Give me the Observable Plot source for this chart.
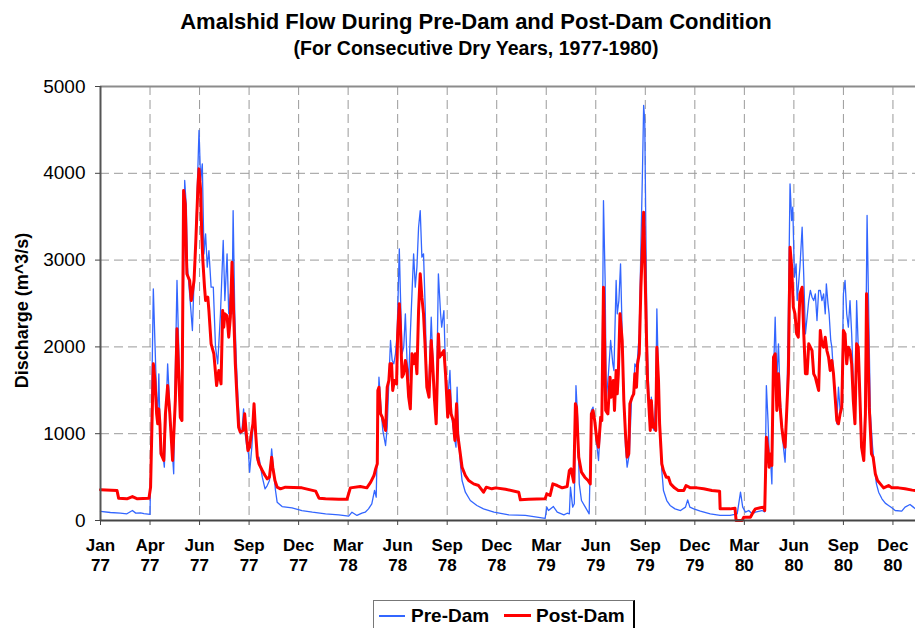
<!DOCTYPE html>
<html><head><meta charset="utf-8">
<script src="https://cdn.jsdelivr.net/npm/d3@7"></script>
<script src="https://cdn.jsdelivr.net/npm/@observablehq/plot@0.6"></script>
<style>
body{margin:0;background:#fff;font-family:Arial,"Liberation Sans",sans-serif;}
#wrap{position:relative;width:915px;height:628px;overflow:hidden;background:#fff;}
#chart{position:absolute;left:0;top:0;}
.ttl{position:absolute;left:0;width:952px;text-align:center;font-weight:bold;color:#000;white-space:nowrap;}
#legend{position:absolute;left:373px;top:600px;width:259px;height:40px;border:1px solid #777;border-right:2px solid #000;background:#fff;}
#legend span{position:absolute;font-weight:bold;font-size:19px;line-height:19px;top:5px;color:#000;}
#legend i{position:absolute;display:block;}
</style></head>
<body>
<div id="wrap">
  <div id="chart"></div>
  <div class="ttl" id="title" style="top:10px;font-size:22px;line-height:24px;"></div>
  <div class="ttl" id="subtitle" style="top:37px;font-size:19.5px;line-height:22px;"></div>
  <div id="legend"></div>
</div>
<script>
const titleText = "Amalshid Flow During Pre-Dam and Post-Dam Condition";
const subtitleText = "(For Consecutive Dry Years, 1977-1980)";
const yLabel = "Discharge (m^3/s)";
const seriesNames = ["Pre-Dam", "Post-Dam"];
const seriesColors = ["#3366FF", "#FF0000"];

// days since 1977-01-01 and discharge (m^3/s)
const preDay = [0,18,36,48,58,64,73,79,90,96,99,102,104,106,109,114,116,119,122,125,128,133,136,139,142,145,148,153,156,158,162,167,170,173,179,182,185,188,191,194,197,201,205,209,213,218,223,226,230,233,236,239,241,244,247,250,254,257,260,263,266,269,271,275,279,282,285,288,294,299,303,307,311,315,318,321,330,348,366,385,409,433,451,457,466,475,481,487,493,498,501,504,506,510,513,518,521,524,527,530,533,536,539,543,545,548,551,554,557,560,563,566,569,572,575,578,581,584,587,590,593,597,601,603,607,610,614,618,620,624,627,631,635,638,642,646,648,651,654,657,663,672,684,696,715,742,772,808,811,814,823,830,842,848,852,854,858,861,864,867,870,874,881,888,892,895,898,901,905,909,911,914,917,919,923,927,931,933,937,939,942,945,948,951,954,957,961,965,969,971,974,976,979,982,985,987,989,991,993,996,999,1001,1004,1006,1009,1011,1014,1016,1020,1023,1029,1035,1044,1054,1063,1067,1071,1078,1090,1108,1126,1144,1157,1163,1167,1172,1178,1184,1190,1202,1207,1210,1213,1215,1218,1220,1223,1226,1229,1232,1235,1238,1241,1244,1247,1250,1253,1256,1258,1261,1264,1266,1268,1271,1275,1278,1281,1284,1287,1290,1293,1296,1299,1302,1305,1308,1311,1314,1317,1319,1322,1324,1327,1329,1332,1335,1338,1341,1344,1347,1350,1353,1356,1359,1362,1365,1368,1371,1374,1377,1380,1383,1387,1390,1393,1396,1399,1403,1407,1410,1414,1420,1426,1432,1438,1444,1456,1462,1471,1477,1481];
const preQ = [104,92,85,77,115,85,88,80,70,2669,2035,1421,1229,1690,768,730,614,1229,1805,1421,1037,538,1728,2765,2035,1229,1229,3917,3610,2919,2611,2189,2765,3226,4493,3917,4109,3072,3302,2919,3110,2688,2688,1997,1805,2381,3226,2534,3072,2381,2611,2381,3571,2381,1805,1382,998,1018,1286,998,845,768,557,845,1325,998,691,730,499,365,403,461,826,538,346,211,161,146,115,96,77,65,50,96,58,84,96,134,192,346,269,1190,1651,1267,1037,864,1075,1613,2074,1843,1805,1920,2150,3130,2611,1920,1997,2381,1843,1613,2150,2611,3072,2688,2919,3379,3571,3034,3072,2458,1574,1613,2342,1997,1382,1152,2842,2381,2227,2419,1728,1382,1728,1229,998,845,1536,922,653,461,326,230,173,134,96,65,58,25,154,115,161,96,65,84,77,384,154,192,1555,1190,422,230,154,77,1267,1306,1152,922,691,1152,1152,3686,2765,1382,1690,2074,1805,1728,2765,2381,2534,2957,2150,1459,845,614,768,1400,1498,1805,1766,1882,2150,3149,4070,4781,4608,3341,2150,1536,1037,1421,1075,1037,1421,2438,1613,1037,576,346,230,173,134,115,154,238,154,134,108,77,58,58,77,326,154,96,115,77,96,115,100,1555,1152,768,653,422,1690,2342,1613,2035,1421,1114,845,672,1229,2381,3878,3456,3610,2803,2957,2534,2688,2919,3379,2803,2150,2342,2534,2650,2573,2534,2611,2304,2650,2650,2534,2611,2381,2726,2496,2381,2074,1997,1690,1459,1114,1536,1267,1344,2611,2765,2381,2227,2534,2150,1613,1152,2534,1997,1267,845,691,1613,3514,2381,1229,845,576,422,326,250,200,173,146,115,108,154,184,154,134];

const postDay = [0,30,33,48,58,67,88,91,96,99,102,104,106,108,110,115,118,122,126,131,136,139,142,145,148,151,154,157,162,165,170,173,177,179,182,184,186,189,191,195,197,201,206,211,215,219,222,224,226,230,233,236,239,242,245,248,251,254,259,262,265,268,271,274,277,279,282,285,288,294,299,303,307,311,313,317,321,327,336,366,391,397,409,433,448,454,472,484,491,497,500,503,504,506,509,512,515,518,521,524,526,529,531,534,538,540,543,545,548,551,554,557,560,563,566,569,572,575,578,581,584,587,590,593,597,601,603,607,610,614,616,620,624,627,631,634,637,641,644,647,649,653,657,663,669,678,687,696,701,711,718,736,760,763,778,808,811,817,822,830,839,848,852,855,860,863,865,869,874,880,886,890,892,895,898,902,905,909,911,914,916,918,922,926,928,932,934,937,939,941,944,948,951,954,957,960,962,966,969,971,974,976,979,982,985,987,989,992,994,996,999,1001,1004,1006,1009,1011,1014,1016,1020,1023,1028,1032,1036,1043,1050,1060,1064,1072,1084,1096,1111,1125,1126,1144,1153,1155,1166,1169,1181,1186,1190,1199,1205,1207,1210,1213,1215,1218,1220,1223,1226,1229,1232,1235,1238,1241,1244,1247,1250,1253,1256,1259,1262,1265,1268,1271,1275,1278,1281,1284,1287,1290,1293,1296,1299,1302,1305,1308,1311,1314,1317,1320,1323,1326,1329,1332,1335,1338,1341,1344,1347,1350,1353,1356,1359,1362,1365,1368,1371,1374,1377,1380,1383,1387,1390,1392,1394,1397,1401,1404,1408,1412,1417,1423,1432,1438,1450,1462,1475,1481];
const postQ = [353,345,255,250,276,250,255,384,1805,1613,1229,1114,1286,1114,768,691,1229,1555,1229,691,1382,2208,1728,1190,1152,3802,3648,2842,2765,2534,2765,3187,3840,4051,3802,3302,2995,2688,2534,2573,2419,2035,1920,1555,1728,1574,2419,2227,2381,2358,2112,2342,2976,2381,1805,1421,1075,1018,1037,1229,998,806,845,998,1114,1344,998,730,653,576,518,480,499,730,614,461,384,365,384,376,338,257,250,245,245,376,392,376,442,518,595,653,1498,1536,1229,1190,1114,1037,1536,1613,1805,1805,1498,1613,1574,2150,2496,2227,1651,1690,1843,1728,1421,1286,1920,1805,1920,1690,2419,2842,2573,2381,1997,1536,1421,2074,1882,1382,1114,2150,1882,1920,1958,1690,1190,1498,1229,1152,922,1344,998,806,614,518,461,422,403,326,384,365,376,361,326,238,245,250,307,288,422,403,376,392,576,595,442,1344,1306,730,557,499,461,422,1229,1267,1152,922,845,1190,1152,2688,2074,1267,1229,1651,1421,1613,1267,1728,1459,1690,2381,2074,1382,998,730,768,1344,1421,1459,1690,1536,1805,1920,2688,3187,3552,3034,2150,1613,1382,1037,1382,1075,1114,1037,1997,1613,1114,653,576,499,499,422,376,346,346,403,376,376,365,346,338,134,134,142,0,0,38,38,96,134,146,154,115,960,806,614,768,634,1882,1920,1267,1690,1306,1075,922,845,1267,1690,3149,2919,2458,2381,2150,2112,2611,2688,2150,1690,1690,2035,1997,1958,1690,1651,1574,1498,2189,2035,1997,2112,1958,1882,1728,1843,1690,1421,1152,1114,1229,1306,2189,2150,1805,1997,1958,1805,1382,1114,2035,1997,1421,845,691,1229,2611,2189,1306,768,730,538,461,422,376,403,376,376,365,350,346];

// axis ticks: every 90 days from 1 Jan 1977
const tickDay = [0,90,180,270,360,450,540,630,720,810,900,990,1080,1170,1260,1350,1440];
const tickMonths = ["Jan","Apr","Jun","Sep","Dec","Mar","Jun","Sep","Dec","Mar","Jun","Sep","Dec","Mar","Jun","Sep","Dec"];
const tickYears = ["77","77","77","77","77","78","78","78","78","79","79","79","79","80","80","80","80"];
const yTicks = [0,1000,2000,3000,4000,5000];

const t0 = Date.UTC(1977,0,1);
const toDate = d => new Date(t0 + d*864e5);
const pre = preDay.map((d,i) => ({date: toDate(d), q: preQ[i]}));
const post = postDay.map((d,i) => ({date: toDate(d), q: postQ[i]}));
const tickDates = tickDay.map(toDate);
const labelOf = d => { const i = tickDates.findIndex(t => +t === +d); return i < 0 ? "" : tickMonths[i] + "\n" + tickYears[i]; };

document.getElementById("title").textContent = titleText;
document.getElementById("subtitle").textContent = subtitleText;

const font = "Arial, 'Liberation Sans', sans-serif";
const chart = Plot.plot({
  width: 915, height: 628,
  marginTop: 86, marginBottom: 108, marginLeft: 100, marginRight: 0,
  style: {fontFamily: font, background: "transparent", overflow: "visible"},
  x: {type: "utc", domain: [toDate(0), toDate(1481)]},
  y: {domain: [0, 5000]},
  marks: [
    Plot.gridY(yTicks.slice(1, -1), {stroke: "#9a9a9a", strokeOpacity: 1, strokeDasharray: "9,5"}),
    Plot.gridX(tickDates.slice(1), {stroke: "#9a9a9a", strokeOpacity: 1, strokeDasharray: "9,5"}),
    Plot.ruleY([5000], {stroke: "#8c8c8c", strokeWidth: 2}),
    Plot.line(pre, {x: "date", y: "q", stroke: seriesColors[0], strokeWidth: 1.3}),
    Plot.line(post, {x: "date", y: "q", stroke: seriesColors[1], strokeWidth: 3}),
    Plot.ruleX([toDate(0)], {stroke: "#555", strokeWidth: 2}),
    Plot.ruleY([0], {stroke: "#444", strokeWidth: 2}),
    Plot.axisY({ticks: yTicks, tickSize: 5, tickPadding: 10, fontSize: 19, stroke: "#444", fill: "#000", label: null, tickFormat: d => String(d)}),
    Plot.axisX({ticks: tickDates, tickSize: 5, tickPadding: 11, fontSize: 17, fontWeight: "bold", lineHeight: 1.18, stroke: "#444", fill: "#000", label: null, tickFormat: labelOf}),
    Plot.text([yLabel], {frameAnchor: "left", dx: -78, dy: 7, rotate: -90, textAnchor: "middle", lineAnchor: "middle", fontSize: 18, fontWeight: "bold", fill: "#000"})
  ]
});
document.getElementById("chart").appendChild(chart);

// legend
const lg = document.getElementById("legend");
const items = [{x: 5, w: 26, t: 37}, {x: 130, w: 27, t: 162}];
seriesNames.forEach((name, i) => {
  const line = document.createElement("i");
  line.style.left = items[i].x + "px";
  line.style.width = items[i].w + "px";
  line.style.top = (i === 0 ? 14 : 13) + "px";
  line.style.height = (i === 0 ? 1.5 : 3) + "px";
  line.style.background = seriesColors[i];
  lg.appendChild(line);
  const s = document.createElement("span");
  s.style.left = items[i].t + "px";
  s.textContent = name;
  lg.appendChild(s);
});
</script>
</body></html>
